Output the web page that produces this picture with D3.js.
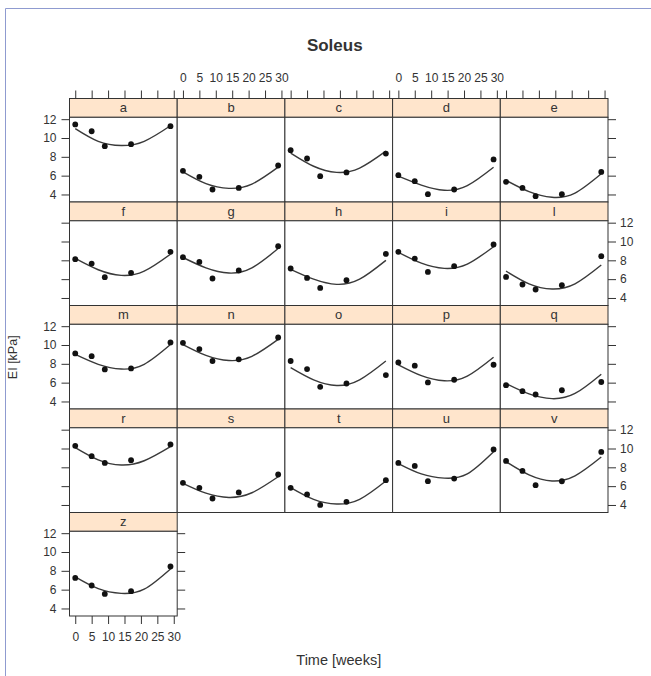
<!DOCTYPE html>
<html>
<head>
<meta charset="utf-8">
<script src="https://cdn.jsdelivr.net/npm/d3@7"></script>
<style>
  html, body { margin: 0; padding: 0; background: #fff; }
  text { font-family: "Liberation Sans", Arial, Helvetica, sans-serif; fill: #333; }
</style>
</head>
<body>
<div id="chart"></div>
<script>
// ---------- data ----------
const panelNames = ["a","b","c","d","e","f","g","h","i","l","m","n","o","p","q","r","s","t","u","v","z"];
const sampleWeeks = [0, 5, 9, 17, 29];
const measuredEI = [
  [11.44, 10.72, 9.13, 9.34, 11.26], // a
  [6.51, 5.87, 4.53, 4.70, 7.08],    // b
  [8.71, 7.82, 5.94, 6.34, 8.35],    // c
  [6.05, 5.41, 4.03, 4.53, 7.72],    // d
  [5.34, 4.70, 3.82, 4.03, 6.40],    // e
  [8.12, 7.66, 6.21, 6.67, 8.90],    // f
  [8.33, 7.83, 6.07, 6.92, 9.50],    // g
  [7.13, 6.13, 5.07, 5.89, 8.68],    // h
  [8.90, 8.19, 6.77, 7.38, 9.68],    // i
  [6.24, 5.43, 4.90, 5.36, 8.44],    // l
  [9.10, 8.81, 7.40, 7.51, 10.27],   // m
  [10.23, 9.57, 8.30, 8.48, 10.80],  // n
  [8.30, 7.44, 5.56, 5.91, 6.80],    // o
  [8.15, 7.80, 6.02, 6.31, 7.90],    // p
  [5.73, 5.09, 4.74, 5.19, 6.07],    // q
  [10.28, 9.18, 8.47, 8.76, 10.43],  // r
  [6.35, 5.82, 4.69, 5.33, 7.24],    // s
  [5.82, 5.12, 4.00, 4.33, 6.64],    // t
  [8.47, 8.15, 6.53, 6.81, 9.90],    // u
  [8.68, 7.62, 6.10, 6.52, 9.64],    // v
  [7.25, 6.44, 5.55, 5.84, 8.46]     // z
];
const fitWeeks = [0, 7, 14, 21, 29];
const fittedEI = [
  [11.0, 9.65, 9.2, 9.65, 11.3],  // a
  [6.4, 5.15, 4.65, 5.1, 6.9],    // b
  [8.4, 7.0, 6.35, 6.8, 8.6],     // c
  [5.95, 5.0, 4.45, 4.95, 6.9],   // d
  [5.5, 4.3, 3.7, 4.15, 6.2],     // e
  [8.2, 7.0, 6.4, 6.85, 8.65],    // f
  [8.3, 7.2, 6.65, 7.2, 9.25],    // g
  [7.05, 6.0, 5.45, 6.0, 8.0],    // h
  [8.85, 7.7, 7.15, 7.6, 9.45],   // i
  [6.85, 5.5, 4.95, 5.5, 7.5],    // l
  [9.0, 7.95, 7.45, 7.95, 10.05], // m
  [10.05, 8.9, 8.35, 8.8, 10.6],  // n
  [7.6, 6.3, 5.7, 6.3, 8.3],      // o
  [7.9, 6.75, 6.2, 6.7, 8.7],     // p
  [5.9, 4.8, 4.3, 4.85, 6.9],     // q
  [10.1, 8.8, 8.25, 8.7, 10.2],   // r
  [6.3, 5.25, 4.8, 5.3, 7.0],     // s
  [5.85, 4.6, 4.1, 4.6, 6.55],    // t
  [8.4, 7.3, 6.85, 7.3, 9.65],    // u
  [8.6, 7.2, 6.55, 7.1, 9.1],     // v
  [7.35, 6.1, 5.6, 6.05, 8.2]     // z
];
const xTicks = [0, 5, 10, 15, 20, 25, 30];
const yTicks = [4, 6, 8, 10, 12];
const titleText = "Soleus";
const xLabel = "Time [weeks]";
const yLabel = "EI [kPa]";

// ---------- layout ----------
const W = 651, H = 676;
const L0 = 69.5, PW = 107.7, T0 = 98.5, SH = 18.8, PH = 84.7, RP = 103.5, NC = 5;
const ink = "#333";

const svg = d3.select("#chart").append("svg")
  .attr("width", W).attr("height", H);

// frame lines
svg.append("line").attr("x1", 5.5).attr("y1", 8.5).attr("x2", W).attr("y2", 8.5)
  .attr("stroke", "#8f9bd0").attr("stroke-width", 1);
svg.append("line").attr("x1", 5.5).attr("y1", 8.5).attr("x2", 5.5).attr("y2", H)
  .attr("stroke", "#8f9bd0").attr("stroke-width", 1);

const x = d3.scaleLinear().domain([-1.75, 31.05]).range([0, PW]);
const y = d3.scaleLinear().domain([3.2, 12.2]).range([PH, 0]);

const line = d3.line().x(d => x(d[0])).y(d => y(d[1])).curve(d3.curveNatural);

const nRows = Math.ceil(panelNames.length / NC);

function styleAxis(g) {
  g.select(".domain").remove();
  g.selectAll(".tick line").attr("stroke", ink).attr("stroke-width", 1);
  g.selectAll(".tick text").attr("font-size", 12).attr("fill", ink)
    .style("font-family", '"Liberation Sans", Arial, sans-serif');
}

panelNames.forEach((name, i) => {
  const col = i % NC, row = Math.floor(i / NC);
  const isLastInRow = (col === NC - 1) || (i === panelNames.length - 1);
  const g = svg.append("g").attr("transform", `translate(${L0 + col * PW},${T0 + row * RP})`);

  // strip
  g.append("rect").attr("x", 0).attr("y", 0).attr("width", PW).attr("height", SH)
    .attr("fill", "#ffe5cc").attr("stroke", ink).attr("stroke-width", 1);
  g.append("text").attr("x", PW / 2).attr("y", SH / 2).attr("dy", "0.35em")
    .attr("text-anchor", "middle").attr("font-size", 13).text(name);

  // panel
  const p = g.append("g").attr("transform", `translate(0,${SH})`);
  p.append("rect").attr("width", PW).attr("height", PH)
    .attr("fill", "#fff").attr("stroke", ink).attr("stroke-width", 1);

  const fit = fitWeeks.map((w, k) => [w, fittedEI[i][k]]);
  p.append("path").attr("d", line(fit)).attr("fill", "none")
    .attr("stroke", "#3a3a3a").attr("stroke-width", 1.4);

  p.selectAll("circle").data(sampleWeeks.map((w, k) => [w, measuredEI[i][k]]))
    .join("circle").attr("cx", d => x(d[0])).attr("cy", d => y(d[1]))
    .attr("r", 2.9).attr("fill", "#111");

  // left axis
  if (col === 0) {
    const ax = d3.axisLeft(y).tickValues(yTicks).tickSize(8).tickPadding(5);
    if (row % 2 === 1) ax.tickFormat("");
    p.append("g").call(ax).call(styleAxis);
  }
  // right axis
  if (isLastInRow) {
    const ax = d3.axisRight(y).tickValues(yTicks).tickSize(8).tickPadding(4);
    if (row % 2 === 0) ax.tickFormat("");
    p.append("g").attr("transform", `translate(${PW},0)`).call(ax).call(styleAxis);
  }
  // top axis
  if (row === 0) {
    const ax = d3.axisTop(x).tickValues(xTicks).tickSize(8).tickPadding(8.5);
    if (col % 2 === 0) ax.tickFormat("");
    g.append("g").call(ax).call(styleAxis);
  }
  // bottom axis
  if (row === nRows - 1) {
    const ax = d3.axisBottom(x).tickValues(xTicks).tickSize(8).tickPadding(8.5);
    if (col % 2 === 1) ax.tickFormat("");
    p.append("g").attr("transform", `translate(0,${PH})`).call(ax).call(styleAxis);
  }
});

// titles
const midX = L0 + NC * PW / 2;
svg.append("text").attr("x", midX - 4).attr("y", 51).attr("text-anchor", "middle")
  .attr("font-size", 17).attr("font-weight", "bold").attr("fill", "#111").text(titleText);
svg.append("text").attr("x", midX).attr("y", 665).attr("text-anchor", "middle")
  .attr("font-size", 14.5).attr("fill", ink).text(xLabel);
const plotMidY = (T0 + (nRows - 1) * RP + SH + PH + T0) / 2;
svg.append("text").attr("transform", `translate(17,${plotMidY}) rotate(-90)`)
  .attr("text-anchor", "middle").attr("font-size", 12.5).attr("fill", ink).text(yLabel);
</script>
</body>
</html>
